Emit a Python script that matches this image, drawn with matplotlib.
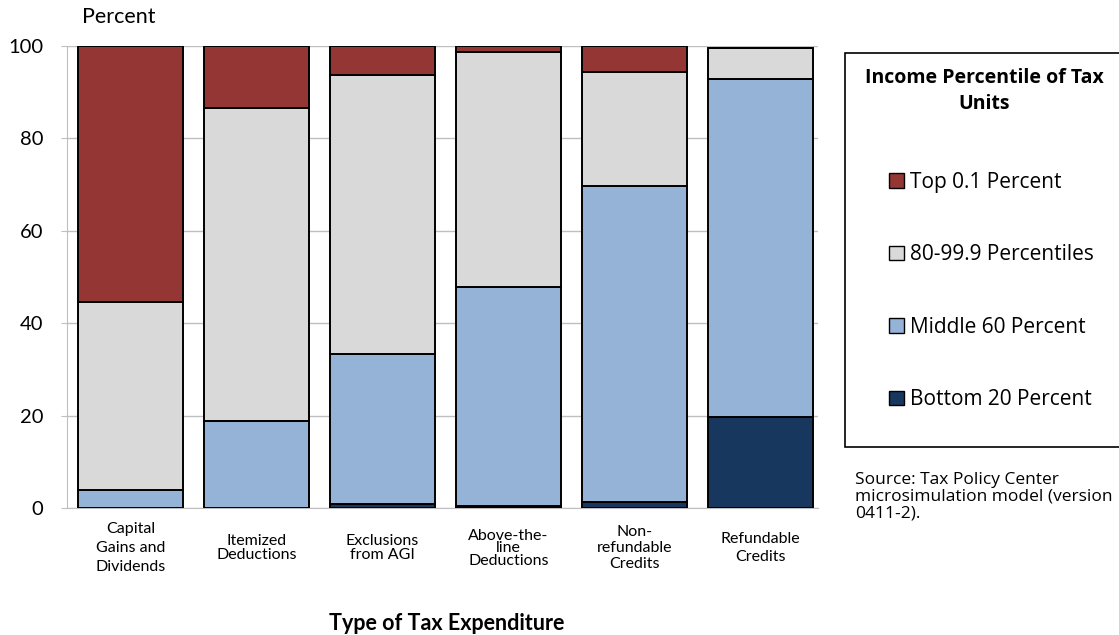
import numpy as np
import matplotlib.pyplot as plt
from matplotlib.patches import Rectangle, Patch

# shares of each tax expenditure by income group (percent)
categories = ["Capital\nGains and\nDividends", "Itemized\nDeductions", "Exclusions\nfrom AGI",
              "Above-the-\nline\nDeductions", "Non-\nrefundable\nCredits", "Refundable\nCredits"]
bottom20 = [0.0, 0.0, 0.8, 0.5, 1.2, 19.7]
middle60 = [3.9, 18.8, 32.5, 47.3, 68.5, 73.2]
upper80_999 = [40.7, 67.8, 60.4, 50.9, 24.7, 6.7]
top01 = [55.4, 13.4, 6.3, 1.3, 5.6, 0.0]

series = ["Top 0.1 Percent", "80-99.9 Percentiles", "Middle 60 Percent", "Bottom 20 Percent"]
colors = {"Top 0.1 Percent": "#943634", "80-99.9 Percentiles": "#D9D9D9",
          "Middle 60 Percent": "#95B3D7", "Bottom 20 Percent": "#17375E"}
spacing = [1.45, 1.0, 1.0, 0.85, 1.2, 1.35]

plt.rcParams["font.family"] = ["Lato", "DejaVu Sans"]

fig = plt.figure(figsize=(11.19, 6.35), dpi=100)
ax = fig.add_axes([0.0599, 0.2, 0.671, 0.7276])

x = np.arange(len(categories))
w = 0.835
stack = [("Bottom 20 Percent", bottom20), ("Middle 60 Percent", middle60),
         ("80-99.9 Percentiles", upper80_999), ("Top 0.1 Percent", top01)]
base = np.zeros(len(categories))
for name, vals in stack:
    vals = np.array(vals)
    ax.bar(x, vals, w, bottom=base, color=colors[name], edgecolor="black", linewidth=1.4, zorder=3)
    base = base + vals

ax.set_xlim(-0.505, 5.455)
ax.set_ylim(0, 100)
ax.set_yticks([0, 20, 40, 60, 80, 100])
ax.yaxis.grid(True, color="#BFBFBF", linewidth=1.0, zorder=0)
for s in ["top", "right"]:
    ax.spines[s].set_visible(False)
ax.spines["left"].set_color("#BFBFBF")
ax.spines["bottom"].set_color("#BFBFBF")
ax.tick_params(axis="y", labelsize=14.5, length=4, color="#BFBFBF", pad=13)
ax.tick_params(axis="x", length=0, labelsize=11.5, pad=29)
ax.set_xticks(x)
ax.set_xticklabels(categories, va="center")
for lab, ls in zip(ax.get_xticklabels(), spacing):
    lab.set_linespacing(ls)

fig.text(82 / 1119, 1 - 17 / 635, "Percent", fontsize=15.5, va="center", ha="left")
fig.text(447 / 1119, 1 - 623 / 635, "Type of Tax Expenditure", fontsize=15.5,
         fontweight="bold", ha="center", va="center")

# legend box
fig.patches.append(Rectangle((845 / 1119, 1 - 447 / 635), 0.3, (447 - 53) / 635,
                             transform=fig.transFigure, facecolor="white",
                             edgecolor="black", linewidth=1.2, zorder=0))
fig.text(984 / 1119, 1 - 91 / 635, "Income Percentile of Tax\nUnits", fontsize=14,
         fontweight="bold", ha="center", va="center", linespacing=1.35,
         family=["Open Sans", "DejaVu Sans"])
handles = [Patch(facecolor=colors[n], edgecolor="black", linewidth=1.0) for n in series]
fig.legend(handles, series, loc="upper left", bbox_to_anchor=(889 / 1119, 1 - 172 / 635),
           frameon=False, labelspacing=2.47, handlelength=0.7,
           handleheight=0.7, handletextpad=0.3, borderpad=0, borderaxespad=0,
           prop={"family": ["Open Sans", "DejaVu Sans"], "size": 15})

fig.text(855 / 1119, 1 - 472 / 635, "Source: Tax Policy Center\nmicrosimulation model (version\n0411-2).",
         fontsize=12.5, ha="left", va="top", linespacing=1.05, family=["Open Sans", "DejaVu Sans"])

fig.savefig("out.png", dpi=100)
